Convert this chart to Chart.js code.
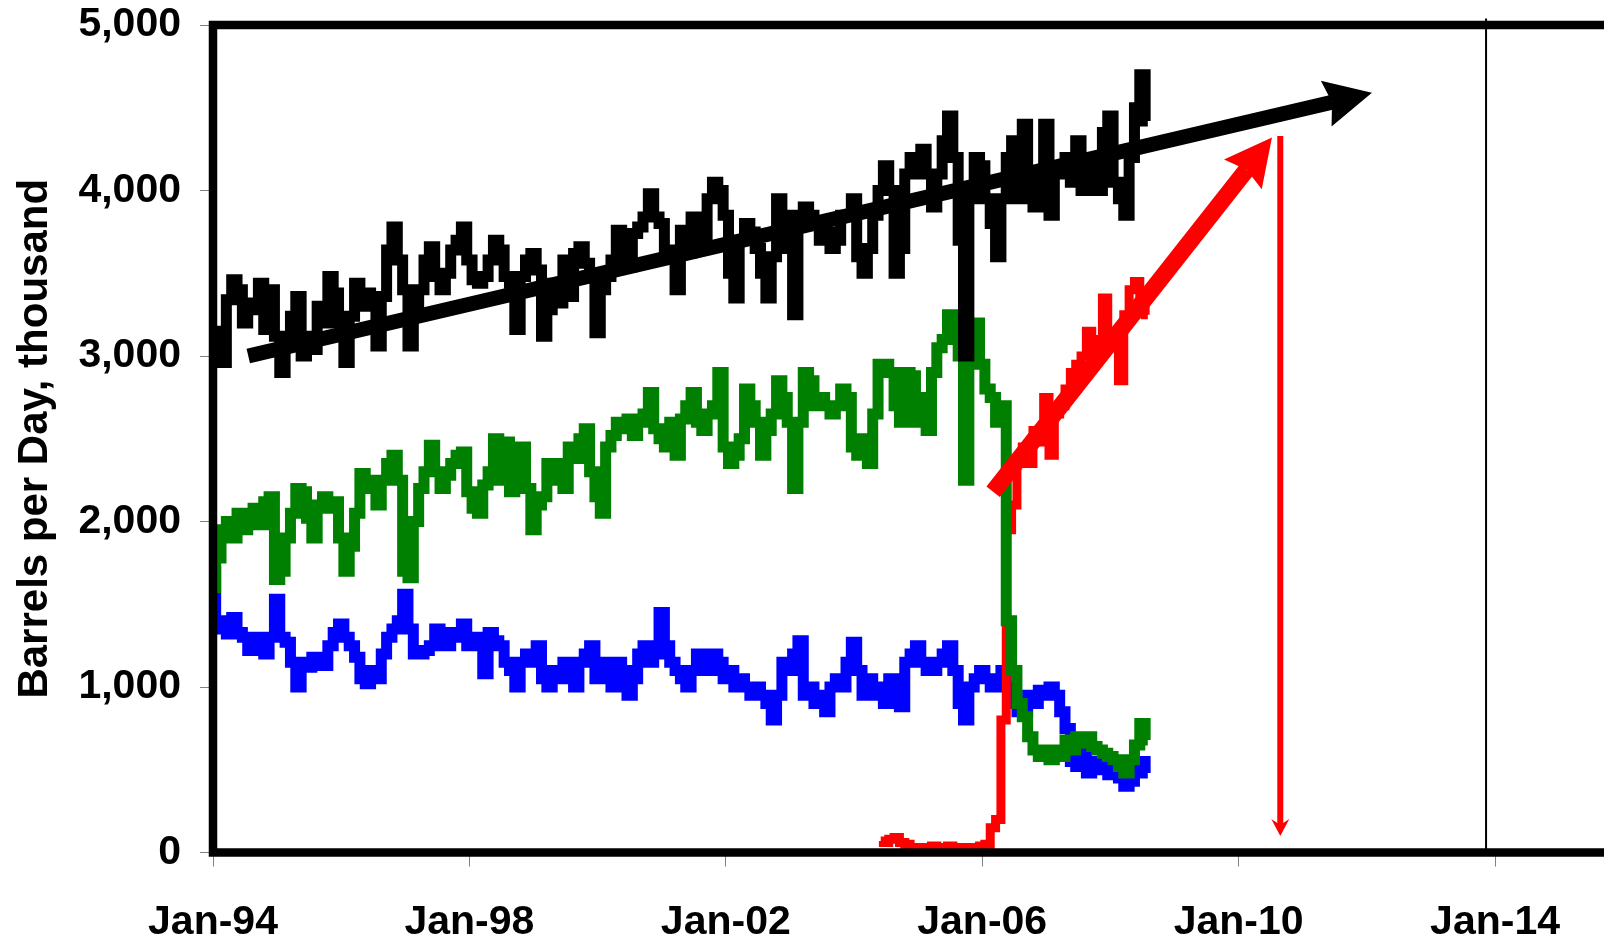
<!DOCTYPE html>
<html>
<head>
<meta charset="utf-8">
<title>Barrels per Day, thousand</title>
<script src="https://cdn.jsdelivr.net/npm/chart.js@4.4.1/dist/chart.umd.min.js"></script>
<style>
    html, body { margin: 0; padding: 0; background: #fff; }
    #wrap { width: 1604px; height: 939px; }
</style>
</head>
<body>
<div id="wrap"><canvas id="barrelsChart" width="1604" height="939"></canvas></div>
<script>
// monthly readings, first value = Jan-94
const startYear = 1994;

const blackSeries = [
    3150, 3040, 2960, 3340, 3460, 3400, 3200, 3320, 3280, 3440, 3160, 3400,
    3120, 2900, 3120, 3240, 3360, 3000, 3120, 3040, 3300, 3200, 3480, 3380,
    3200, 2960, 3240, 3440, 3300, 3380, 3300, 3060, 3360, 3640, 3780, 3580,
    3400, 3060, 3280, 3400, 3580, 3660, 3480, 3400, 3500, 3640, 3700, 3780,
    3580, 3460, 3440, 3480, 3580, 3700, 3640, 3480, 3440, 3160, 3480, 3580,
    3620, 3520, 3120, 3280, 3440, 3320, 3580, 3360, 3620, 3660, 3560, 3480,
    3140, 3400, 3480, 3580, 3760, 3640, 3540, 3740, 3780, 3840, 3980, 3840,
    3800, 3640, 3640, 3400, 3760, 3620, 3840, 3760, 3650, 3950, 4050, 4000,
    3850, 3500, 3350, 3700, 3800, 3750, 3650, 3500, 3350, 3600, 3950, 3850,
    3650, 3250, 3850, 3900, 3850, 3800, 3700, 3750, 3650, 3700, 3850, 3850,
    3950, 3600, 3500, 3650, 3850, 4000, 4150, 4000, 3500, 3650, 4100, 4200,
    4100, 4250, 4100, 3900, 4100, 4300, 4450, 4200, 3700, 3000, 3950, 4200,
    4150, 3950, 3800, 3600, 3950, 4200, 4300, 3950, 4400, 4050, 3900, 4100,
    4400, 3850, 4150, 4100, 4200, 4050, 4300, 4000, 4150, 4100, 4000, 4350,
    4450, 4050, 3950, 3850, 4200, 4500, 4700, 4420
];

const greenSeries = [
    1600, 1780, 1950, 2000, 1900, 2050, 1950, 2000, 2080, 1980, 2120, 2150,
    1650, 1700, 1900, 2050, 2200, 2180, 2020, 1900, 2100, 2150, 2080, 2120,
    1900, 1700, 1850, 2050, 2290, 2250, 2200, 2100, 2250, 2350, 2400, 2250,
    1700, 1660, 2000, 2200, 2300, 2460, 2300, 2200, 2280, 2350, 2400, 2420,
    2180, 2080, 2050, 2220, 2300, 2500, 2250, 2480, 2180, 2300, 2450, 2200,
    1950, 2100, 2150, 2350, 2250, 2350, 2200, 2450, 2380, 2500, 2560, 2300,
    2150, 2050, 2450, 2520, 2600, 2560, 2620, 2520, 2600, 2650, 2780, 2560,
    2500, 2450, 2600, 2400, 2620, 2700, 2780, 2600, 2550, 2650, 2700, 2900,
    2450, 2350, 2400, 2500, 2800, 2700, 2600, 2400, 2550, 2650, 2850, 2750,
    2600, 2200, 2600, 2900, 2850, 2700, 2750, 2700, 2650, 2700, 2800, 2750,
    2450, 2400, 2500, 2350, 2650, 2950, 2950, 2900, 2700, 2600, 2900, 2880,
    2600, 2750, 2550, 2900, 3050, 3100, 3250, 3150, 3000, 2250, 3150, 3200,
    2950, 2800, 2750, 2600, 2700, 1400, 1100, 900, 820, 700, 620, 580,
    620, 560, 620, 580, 680, 620, 700, 660, 700, 640, 620, 600,
    580, 560, 520, 480, 560, 650, 780, 680
];

const blueSeries = [
    1700, 1400, 1350, 1320, 1420, 1330, 1300, 1220, 1300, 1260, 1200, 1300,
    1530, 1300, 1270, 1150, 1000, 1150, 1120, 1180, 1150, 1130, 1250, 1330,
    1380, 1300, 1250, 1180, 1050, 1020, 1100, 1050, 1200, 1300, 1350, 1400,
    1560, 1350, 1200, 1200, 1220, 1250, 1350, 1300, 1250, 1330, 1300, 1380,
    1250, 1300, 1250, 1080, 1330, 1280, 1250, 1150, 1100, 1000, 1150, 1200,
    1150, 1250, 1050, 1000, 1100, 1050, 1150, 1100, 1000, 1150, 1200, 1250,
    1050, 1150, 1100, 1000, 1150, 1100, 950, 1050, 1200, 1250, 1150, 1200,
    1450, 1250, 1150, 1100, 1050, 1000, 1100, 1200, 1150, 1100, 1200, 1150,
    1050, 1100, 1000, 1050, 1000, 950, 1000, 950, 900, 800, 950, 1150,
    1100, 1200, 1280, 950, 1000, 900, 950, 850, 1000, 1050, 1000, 1150,
    1270, 1100, 950, 1050, 950, 1000, 900, 1050, 950, 880, 1150, 1200,
    1250, 1150, 1100, 1100, 1150, 1200, 1250, 1100, 900, 800, 1000, 1050,
    1100, 1050, 1000, 1050, 1100, 1000, 900, 850, 850, 950, 900, 980,
    950, 1000, 950, 850, 750, 550, 520, 600, 480, 550, 500, 520,
    470, 500, 450, 400, 430, 500, 550, 480
];

// red series starts in Jun-04 (month 125)
const redStartMonth = 125;
const redSeries = [
    70, 60, 80, 90, 60, 50, 30,
    10, 30, 20, 40, 30, 20, 40, 20, 30, 10, 30, 20,
    40, 50, 150, 200, 800, 1950, 2100, 2350, 2450, 2350, 2550, 2480,
    2750, 2400, 2650, 2700, 2800, 2900, 2950, 3000, 3150, 3000, 3100, 3350,
    3100, 3050, 2850, 3250, 3400, 3450, 3300, 3250
];

const xTickYears = [1994, 1998, 2002, 2006, 2010, 2014];
const xTickLabels = ['Jan-94', 'Jan-98', 'Jan-02', 'Jan-06', 'Jan-10', 'Jan-14'];
const yTickValues = [0, 1000, 2000, 3000, 4000, 5000];
const yTickLabels = ['0', '1,000', '2,000', '3,000', '4,000', '5,000'];

// annotation endpoints [year, value]
const trendArrow = [[1994.55, 3000], [2012.08, 4590]];
const growthArrow = [[2006.17, 2180], [2010.52, 4320]];
const declineArrow = [[2010.65, 4330], [2010.65, 100]];
const markerLine = [[2013.86, 0], [2013.86, 5040]];

const FONT = '"Liberation Sans", Arial, sans-serif';

function toPoints(values, firstMonth) {
    return values.map((v, i) => ({ x: startYear + (firstMonth + i) / 12, y: v }));
}

function seriesDataset(label, color, values, firstMonth, width) {
    return {
        label: label,
        data: toPoints(values, firstMonth),
        borderColor: color,
        backgroundColor: color,
        borderWidth: width,
        pointRadius: 0,
        tension: 0,
        stepped: 'middle',
        borderJoinStyle: 'miter',
        borderCapStyle: 'butt'
    };
}

function drawArrow(ctx, from, to, color, width, headLen, headWidth) {
    const dx = to[0] - from[0];
    const dy = to[1] - from[1];
    const len = Math.hypot(dx, dy);
    const ux = dx / len, uy = dy / len;
    const bx = to[0] - ux * headLen;
    const by = to[1] - uy * headLen;

    ctx.strokeStyle = color;
    ctx.fillStyle = color;
    ctx.lineWidth = width;
    ctx.lineCap = 'butt';
    ctx.beginPath();
    ctx.moveTo(from[0], from[1]);
    ctx.lineTo(bx + ux * 6, by + uy * 6);
    ctx.stroke();

    // head with a slight notch at the back
    ctx.beginPath();
    ctx.moveTo(to[0], to[1]);
    ctx.lineTo(bx - uy * headWidth / 2, by + ux * headWidth / 2);
    ctx.lineTo(bx + ux * 6, by + uy * 6);
    ctx.lineTo(bx + uy * headWidth / 2, by - ux * headWidth / 2);
    ctx.closePath();
    ctx.fill();
}

const overlayPlugin = {
    id: 'overlay',
    afterDatasetsDraw(chart) {
        const { ctx, chartArea, scales } = chart;
        const px = (p) => [scales.x.getPixelForValue(p[0]), scales.y.getPixelForValue(p[1])];

        ctx.save();

        // plot frame (left, top, bottom; right side runs off the page)
        ctx.strokeStyle = '#000';
        ctx.lineWidth = 8.5;
        ctx.lineJoin = 'miter';
        ctx.beginPath();
        ctx.moveTo(chartArea.right + 10, chartArea.top);
        ctx.lineTo(chartArea.left, chartArea.top);
        ctx.lineTo(chartArea.left, chartArea.bottom);
        ctx.lineTo(chartArea.right + 10, chartArea.bottom);
        ctx.stroke();

        // thin marker line
        const m0 = px(markerLine[0]);
        const m1 = px(markerLine[1]);
        ctx.lineWidth = 2;
        ctx.beginPath();
        ctx.moveTo(m0[0], m0[1]);
        ctx.lineTo(m1[0], m1[1]);
        ctx.stroke();

        drawArrow(ctx, px(trendArrow[0]), px(trendArrow[1]), '#000000', 15, 47, 47);
        drawArrow(ctx, px(growthArrow[0]), px(growthArrow[1]), '#FF0000', 17, 47, 48);
        drawArrow(ctx, px(declineArrow[0]), px(declineArrow[1]), '#FF0000', 6, 17, 18);

        ctx.restore();
    }
};

// keep the plot box where the original has it
function noScalePadding(axis) {
    axis.paddingTop = 0;
    axis.paddingBottom = 0;
    axis.paddingLeft = 0;
    axis.paddingRight = 0;
}

new Chart(document.getElementById('barrelsChart'), {
    type: 'line',
    data: {
        datasets: [
            seriesDataset('Black', '#000000', blackSeries, 0, 11),
            seriesDataset('Green', '#008000', greenSeries, 0, 11),
            seriesDataset('Red', '#FF0000', redSeries, redStartMonth, 9),
            seriesDataset('Blue', '#0000FF', blueSeries, 0, 11)
        ]
    },
    options: {
        responsive: false,
        animation: false,
        devicePixelRatio: 1,
        layout: { padding: { top: 25, right: 0, bottom: 0, left: 0 } },
        plugins: {
            legend: { display: false },
            tooltip: { enabled: false }
        },
        scales: {
            x: {
                type: 'linear',
                min: 1994,
                max: 2015.7,
                afterBuildTicks: (axis) => { axis.ticks = xTickYears.map(v => ({ value: v })); },
                afterFit: (axis) => { axis.height = 86.5; noScalePadding(axis); },
                ticks: {
                    autoSkip: false,
                    maxRotation: 0,
                    padding: 32,
                    color: '#000',
                    font: { family: FONT, size: 41, weight: 'bold' },
                    callback: (value, index) => xTickLabels[index]
                },
                grid: {
                    drawOnChartArea: false,
                    drawTicks: true,
                    tickLength: 14,
                    tickColor: '#808080',
                    lineWidth: 1
                },
                border: { display: false }
            },
            y: {
                min: 0,
                max: 5000,
                afterBuildTicks: (axis) => { axis.ticks = yTickValues.map(v => ({ value: v })); },
                afterFit: (axis) => { axis.width = 213; noScalePadding(axis); },
                ticks: {
                    padding: 19,
                    color: '#000',
                    font: { family: FONT, size: 41, weight: 'bold' },
                    callback: (value, index) => yTickLabels[index]
                },
                grid: {
                    drawOnChartArea: false,
                    drawTicks: true,
                    tickLength: 13,
                    tickColor: '#808080',
                    lineWidth: 1
                },
                border: { display: false },
                title: {
                    display: true,
                    text: 'Barrels per Day, thousand',
                    color: '#000',
                    font: { family: FONT, size: 42, weight: 'bold' },
                    padding: { top: 10, bottom: 0 }
                }
            }
        }
    },
    plugins: [overlayPlugin]
});
</script>
</body>
</html>
